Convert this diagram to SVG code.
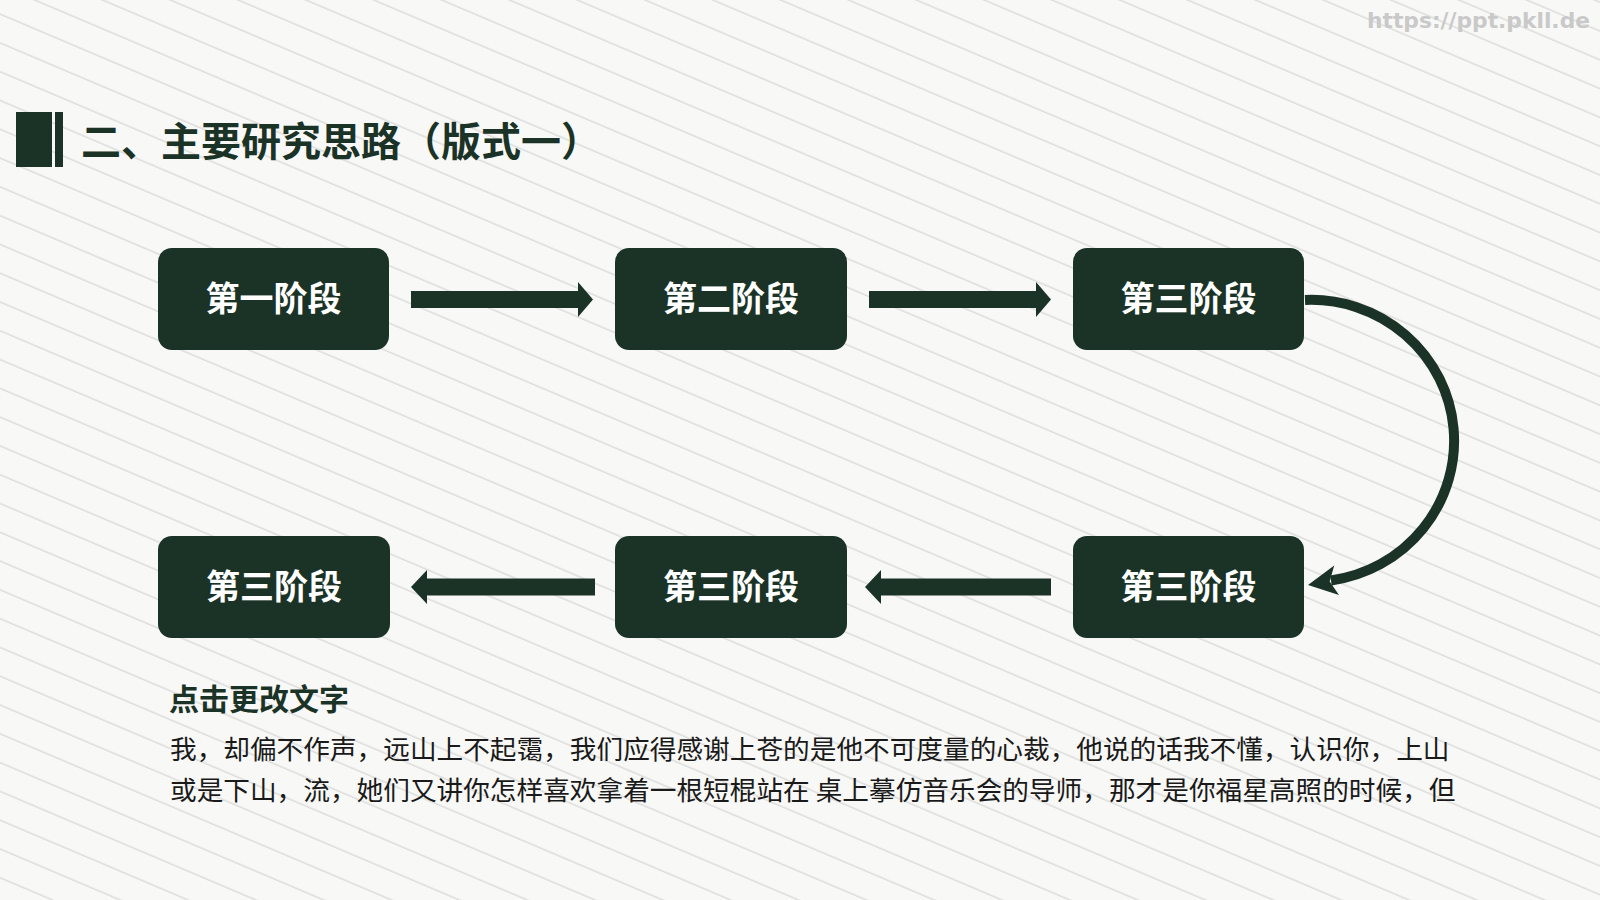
<svg xmlns="http://www.w3.org/2000/svg" width="1600" height="900" viewBox="0 0 1600 900">
  <defs>
    <pattern id="stripes" patternUnits="userSpaceOnUse" width="200" height="26.5" patternTransform="rotate(23)">
      <line x1="0" y1="13" x2="200" y2="13" stroke="#dcdcdc" stroke-width="1.3"/>
    </pattern>
    <style>
      .node rect { fill: #1b3327; }
      .node text { fill: #ffffff; font-family: "Noto Sans CJK SC", "Noto Sans", sans-serif; font-weight: 700; font-size: 34px; text-anchor: middle; }
      .arrow { fill: #1b3327; }
      .title { fill: #1b3327; font-family: "Noto Sans CJK SC", "Noto Sans", sans-serif; font-weight: 700; font-size: 40px; }
      .sub { fill: #1b3327; font-family: "Noto Sans CJK SC", "Noto Sans", sans-serif; font-weight: 700; font-size: 30px; }
      .body { fill: #1a1a1a; font-family: "Noto Sans CJK SC", "Noto Sans", sans-serif; font-weight: 400; font-size: 26.67px; }
      .wm { fill: #c9c9c9; font-family: "DejaVu Sans", sans-serif; font-weight: 700; font-size: 21px; }
    </style>
  </defs>

  <rect x="0" y="0" width="1600" height="900" fill="#f8f8f6"/>
  <rect x="0" y="0" width="1600" height="900" fill="url(#stripes)"/>

  <text class="wm" x="1367" y="28" textLength="223" lengthAdjust="spacingAndGlyphs">https://ppt.pkll.de</text>

  <g id="title">
    <rect x="16" y="112" width="36" height="55" fill="#1b3327"/>
    <rect x="55" y="112" width="8" height="55" fill="#1b3327"/>
    <text class="title" x="81" y="156">二、主要研究思路（版式一）</text>
  </g>

  <g id="node1" class="node">
    <rect x="158" y="248" width="231" height="102" rx="14"/>
    <text x="273.5" y="311">第一阶段</text>
  </g>
  <g id="node2" class="node">
    <rect x="615" y="248" width="232" height="102" rx="14"/>
    <text x="731" y="311">第二阶段</text>
  </g>
  <g id="node3" class="node">
    <rect x="1073" y="248" width="231" height="102" rx="14"/>
    <text x="1188.5" y="311">第三阶段</text>
  </g>
  <g id="node4" class="node">
    <rect x="1073" y="536" width="231" height="102" rx="14"/>
    <text x="1188.5" y="599">第三阶段</text>
  </g>
  <g id="node5" class="node">
    <rect x="615" y="536" width="232" height="102" rx="14"/>
    <text x="731" y="599">第三阶段</text>
  </g>
  <g id="node6" class="node">
    <rect x="158" y="536" width="232" height="102" rx="14"/>
    <text x="274" y="599">第三阶段</text>
  </g>

  <g id="connectors">
    <polygon class="arrow" points="411,291 578,291 578,282 593,299.5 578,317 578,308 411,308"/>
    <polygon class="arrow" points="869,291 1036,291 1036,282 1051,299.5 1036,317 1036,308 869,308"/>
    <path d="M1305,300 A143,141 0 0 1 1331,580.5" fill="none" stroke="#1b3327" stroke-width="10"/>
    <polygon class="arrow" points="1308,585 1334.2,565.5 1329.7,581.4 1339,595.1"/>
    <polygon class="arrow" points="1051,578.5 881,578.5 881,570 865,587 881,604 881,595.5 1051,595.5"/>
    <polygon class="arrow" points="595,578.5 427,578.5 427,570 411,587 427,604 427,595.5 595,595.5"/>
  </g>

  <g id="text">
    <text class="sub" x="169" y="710">点击更改文字</text>
    <text class="body" x="170" y="759">我，却偏不作声，远山上不起霭，我们应得感谢上苍的是他不可度量的心裁，他说的话我不懂，认识你，上山</text>
    <text class="body" x="170" y="800">或是下山，流，她们又讲你怎样喜欢拿着一根短棍站在 桌上摹仿音乐会的导师，那才是你福星高照的时候，但</text>
  </g>
</svg>
